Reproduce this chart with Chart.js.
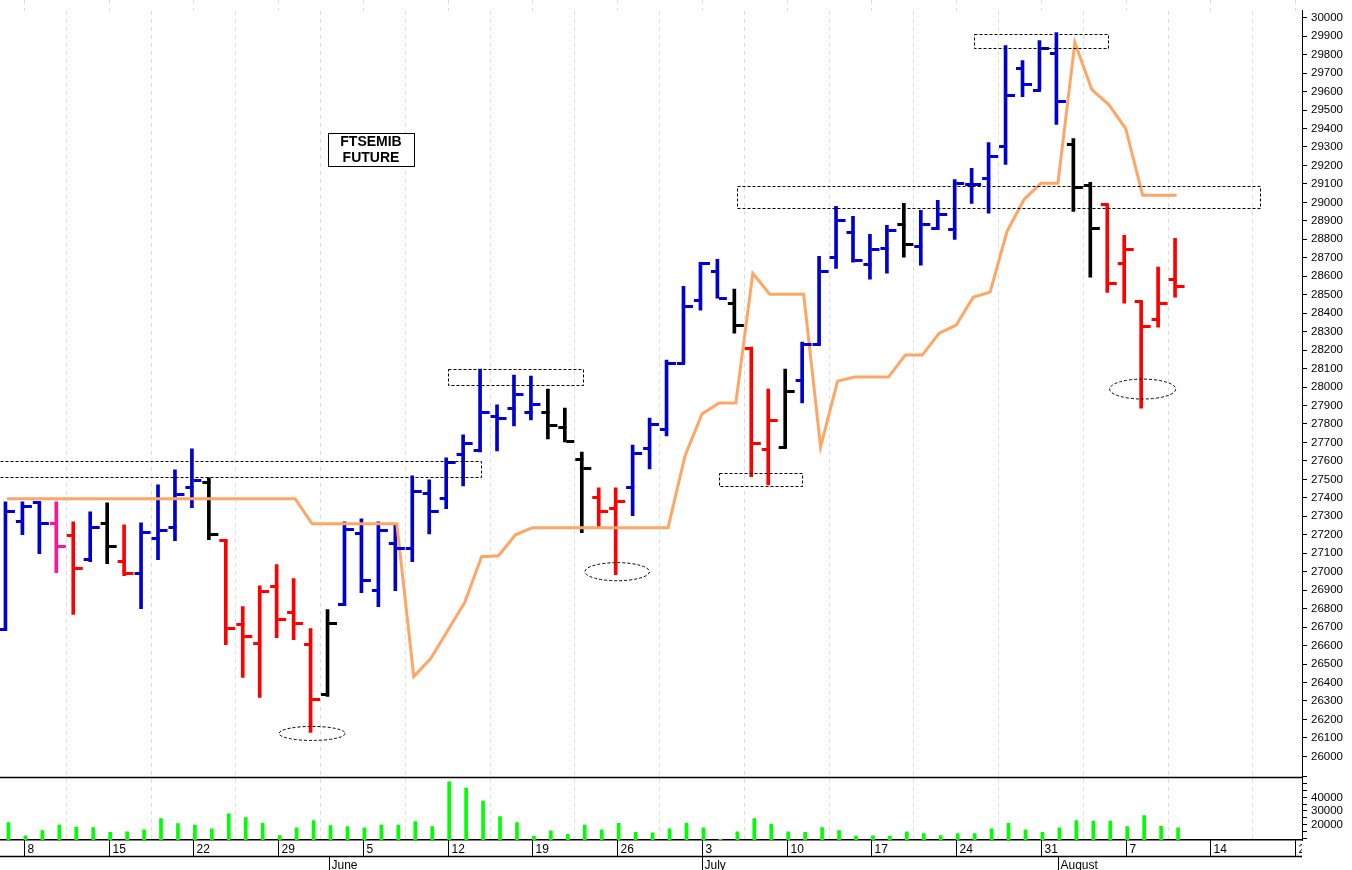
<!DOCTYPE html>
<html><head><meta charset="utf-8">
<script src="https://cdn.jsdelivr.net/npm/chart.js@4/dist/chart.umd.min.js"></script>
<style>html,body{margin:0;padding:0;background:#fff}canvas{display:block}</style>
</head><body>
<canvas id="c" width="1352" height="870"></canvas>
<script>
// trading days from 5 May (index 0)
const opens  = [26692,27276,27378,27265,27200,27070,27265,27059,26995,27184,27243,27459,27486,27173,26719,26616,26924,26784,26611,26335,
  26827,27211,26903,27157,27130,27427,27400,27638,27659,27843,27886,27865,27865,27784,27611,27405,27346,27459,27670,27773,
  28130,28470,28627,28454,28211,27665,27676,28038,28232,28703,28838,28665,28751,28881,28762,28859,28854,29097,29130,29303,
  29730,29611,29811,29314,29092,28989,28670,28465,28368,28584];
const highs  = [27378,27378,27378,27378,27270,27324,27373,27254,27265,27470,27551,27665,27508,27173,26811,26924,27038,26962,26692,26795,
  27270,27286,27270,27259,27519,27497,27616,27741,28097,27903,28065,28059,27989,27886,27648,27454,27454,27686,27832,28146,
  28546,28676,28692,28530,28216,27989,28097,28243,28708,28978,28924,28827,28876,28995,28957,29011,29124,29184,29324,29849,
  29768,29876,29919,29346,29108,28989,28822,28465,28649,28805];
const lows   = [26681,27200,27097,26995,26768,27054,27043,26978,26800,27065,27168,27346,27173,26605,26427,26319,26643,26632,26130,26324,
  26816,26887,26811,26897,27054,27205,27341,27465,27648,27654,27789,27822,27719,27703,27211,27243,26984,27303,27557,27735,
  28130,28416,28481,28292,27514,27470,27670,27914,28227,28643,28676,28584,28616,28703,28660,28854,28800,28995,28941,29205,
  29573,29611,29422,28951,28595,28513,28454,27886,28324,28486];
const closes = [27330,27357,27265,27141,27022,27243,27141,26995,27216,27227,27422,27497,27205,26697,26654,26897,26746,26724,26313,26724,
  27232,26957,27227,27130,27438,27330,27595,27697,27865,27832,27962,27908,27795,27708,27562,27330,27384,27643,27800,28130,
  28438,28670,28481,28335,27697,27822,27978,28232,28627,28903,28686,28746,28849,28773,28881,28935,29103,29097,29249,29584,
  29643,29838,29551,29081,28859,28562,28746,28330,28454,28546];
const barColors = "BBBPRBKRBBBBKRRRRRRKBBBBBBBBBBBBKKKRRBBBBBBKRRKBBBBBBKBBBBBBBBBKKRRRRRK";
const trendLine = [27395,27395,27395,27395,27395,27395,27395,27395,27395,27395,27395,27395,27395,27395,27395,27395,27395,27395,27259,27259,
  27259,27259,27259,27259,26432,26530,26681,26832,27081,27086,27200,27238,27238,27238,27238,27238,27238,27238,27238,27238,
  27627,27854,27914,27914,28616,28503,28503,28503,27676,28032,28054,28054,28054,28173,28173,28292,28335,28486,28514,28843,
  29016,29103,29103,29865,29611,29530,29400,29038,29038,29038];
const volumes = [21500,11800,15700,19600,18100,17900,14300,14700,16100,24400,20800,19600,16900,28000,25100,21000,12000,17600,23000,19300,
  18600,17600,19600,19600,22200,18600,51400,46900,37200,25800,21500,11600,15500,12800,19600,16100,21000,14300,14000,16900,
  21000,17600,9200,14700,24400,20300,14700,14300,17900,15700,11600,11800,11600,14700,13500,12000,13500,13500,16900,21000,
  16100,14300,17600,23000,22500,22500,18600,26600,18800,17600];
const mondayIdx   = [1,6,11,16,21,26,31,36,41,46,51,56,61,66,71,76];
const mondayLabels= ["8","15","22","29","5","12","19","26","3","10","17","24","31","7","14","21"];
const monthIdx    = [19,41,62];
const monthLabels = ["June","July","August"];
const priceTicks = []; for (let v = 26000; v <= 30000; v += 100) priceTicks.push(v);
const volTicks = [10000,15000,20000,25000,30000,35000,40000,45000,50000,55000];
const volLabels = [20000,30000,40000];
// annotations: [xFrom, xTo, priceTop, priceBottom]
const boxes = [[-1,27.96,27600,27514],[26.0,33.98,28097,28011],[42.0,46.9,27535,27465],[43.07,73.9,29087,28968],[57.05,64.96,29913,29838]];
// ellipses: [centerIdx, centerPrice, halfWidthIdx, halfHeightPrice]
const ellipses = [[18,26124,1.95,38],[36,27000,1.9,49],[67,27989,1.95,54]];

const PMIN = 25889, PMAX = 30037, VMIN = 8700, VMAX = 55070;
const N = opens.length;
const idx = [...Array(N).keys()];
const colMap = {B:'#0000d0',R:'#ff0000',K:'#000000',P:'#ff1493'};
const cols = idx.map(i => colMap[barColors[i]]);

const ohlcTicks = {
  id:'ohlcTicks',
  afterDatasetsDraw(chart){
    const {ctx, scales:{x,y}} = chart;
    ctx.save(); ctx.lineWidth = 3; ctx.lineCap='butt';
    idx.forEach(i=>{
      const px = x.getPixelForValue(i);
      ctx.strokeStyle = cols[i];
      ctx.beginPath();
      const yo = Math.round(y.getPixelForValue(opens[i]))+0.5, yc = Math.round(y.getPixelForValue(closes[i]))+0.5;
      ctx.moveTo(px-8, yo); ctx.lineTo(px, yo);
      ctx.moveTo(px, yc); ctx.lineTo(px+8, yc);
      ctx.stroke();
    });
    ctx.restore();
  }
};
const deco = {
  id:'deco',
  beforeDatasetsDraw(chart){
    const {ctx, chartArea:a, scales:{x}} = chart;
    ctx.save(); ctx.strokeStyle='#dcdcdc'; ctx.lineWidth=1; ctx.setLineDash([4,4]);
    mondayIdx.forEach(m=>{ const px=Math.round(x.getPixelForValue(m))+0.5;
      ctx.beginPath(); ctx.moveTo(px,0); ctx.lineTo(px,a.top); ctx.stroke(); });
    ctx.restore();
  },
  afterDraw(chart){
    const {ctx, chartArea:a, scales:{x,y,v}} = chart;
    ctx.save();
    ctx.strokeStyle='#000'; ctx.lineWidth=1.5;
    const sep = Math.round(v.top)+0.5;
    ctx.beginPath(); ctx.moveTo(0,sep); ctx.lineTo(a.right,sep); ctx.stroke();
    ctx.lineWidth=1; ctx.setLineDash([3,2]);
    boxes.forEach(b=>{
      const x1=x.getPixelForValue(b[0]), x2=x.getPixelForValue(b[1]);
      const y1=y.getPixelForValue(b[2]), y2=y.getPixelForValue(b[3]);
      ctx.strokeRect(Math.round(x1)+0.5,Math.round(y1)+0.5,Math.round(x2-x1),Math.round(y2-y1));
    });
    ellipses.forEach(e=>{
      const cx=x.getPixelForValue(e[0]), cy=y.getPixelForValue(e[1]);
      const rx=x.getPixelForValue(e[0]+e[2])-cx, ry=cy-y.getPixelForValue(e[1]+e[3]);
      ctx.beginPath(); ctx.ellipse(cx,cy,rx,ry,0,0,Math.PI*2); ctx.stroke();
    });
    ctx.setLineDash([]);
    ctx.fillStyle='#fff'; ctx.fillRect(328,133,86,33);
    ctx.strokeRect(328.5,133.5,86,33);
    ctx.fillStyle='#000'; ctx.font='bold 14px "Liberation Sans", Arial'; ctx.textAlign='center'; ctx.textBaseline='middle';
    ctx.fillText('FTSEMIB',371,142); ctx.fillText('FUTURE',371,158);
    ctx.beginPath(); ctx.rect(0,0,a.right,870); ctx.clip();
    ctx.lineWidth=1.5; ctx.strokeStyle='#000';
    ctx.beginPath(); ctx.moveTo(0,856.5); ctx.lineTo(a.right,856.5); ctx.stroke();
    ctx.lineWidth=1;
    ctx.font='12px "Liberation Sans", Arial'; ctx.textAlign='left'; ctx.textBaseline='alphabetic';
    mondayIdx.forEach((m,k)=>{
      const px=Math.round(x.getPixelForValue(m))+0.5;
      ctx.beginPath(); ctx.moveTo(px,840); ctx.lineTo(px,856); ctx.stroke();
      ctx.fillText(mondayLabels[k], px+3, 853);
    });
    monthIdx.forEach((m,k)=>{
      const px=Math.round(x.getPixelForValue(m))+0.5;
      ctx.beginPath(); ctx.moveTo(px,856); ctx.lineTo(px,870); ctx.stroke();
      ctx.fillText(monthLabels[k], px+2, 869);
    });
    ctx.restore();
  }
};

new Chart(document.getElementById('c'), {
  data:{
    datasets:[
      {type:'line', data: idx.map(i=>({x:i,y:trendLine[i]})), borderColor:'#ffa566', borderWidth:3, pointRadius:0, yAxisID:'y', order:0, tension:0},
      {type:'bar', data: idx.map(i=>({x:i,y:[lows[i],highs[i]]})), backgroundColor: cols, barThickness:3, yAxisID:'y', order:1},
      {type:'bar', data: idx.map(i=>({x:i,y:volumes[i]})), backgroundColor:'#00ff00', barThickness:3, yAxisID:'v', order:2}
    ]
  },
  options:{
    responsive:false, animation:false, devicePixelRatio:1,
    layout:{padding:0},
    plugins:{legend:{display:false}, tooltip:{enabled:false}},
    scales:{
      x:{type:'linear', min:-0.41, max:76.4, offset:false,
         afterBuildTicks:s=>{s.ticks = mondayIdx.map(v=>({value:v}));},
         afterFit:s=>{s.height=30;},
         ticks:{display:false},
         grid:{color:'#dcdcdc', lineWidth:1, tickLength:0, drawTicks:false},
         border:{display:true, color:'#000', width:1.5, dash:[4,4]}},
      y:{type:'linear', position:'right', stack:'s', stackWeight:776, min:PMIN, max:PMAX,
         afterBuildTicks:s=>{s.ticks = priceTicks.map(v=>({value:v}));},
         afterFit:s=>{s.width=50;},
         ticks:{color:'#000', font:{family:'"Liberation Sans", Arial', size:11.5}, padding:4, autoSkip:false,
                callback:v=> String(v)},
         grid:{drawOnChartArea:false, tickLength:5, color:'#000'},
         border:{color:'#000', width:1}},
      v:{type:'linear', position:'right', stack:'s', stackWeight:64, min:VMIN, max:VMAX,
         afterBuildTicks:s=>{s.ticks = volTicks.map(v=>({value:v}));},
         afterFit:s=>{s.width=50;},
         ticks:{color:'#000', font:{family:'"Liberation Sans", Arial', size:11.5}, padding:4, autoSkip:false,
                callback:v=> volLabels.includes(v) ? String(v) : ''},
         grid:{drawOnChartArea:false, tickLength:5, color:'#000'},
         border:{color:'#000', width:1}}
    }
  },
  plugins:[ohlcTicks, deco]
});
</script>
</body></html>
